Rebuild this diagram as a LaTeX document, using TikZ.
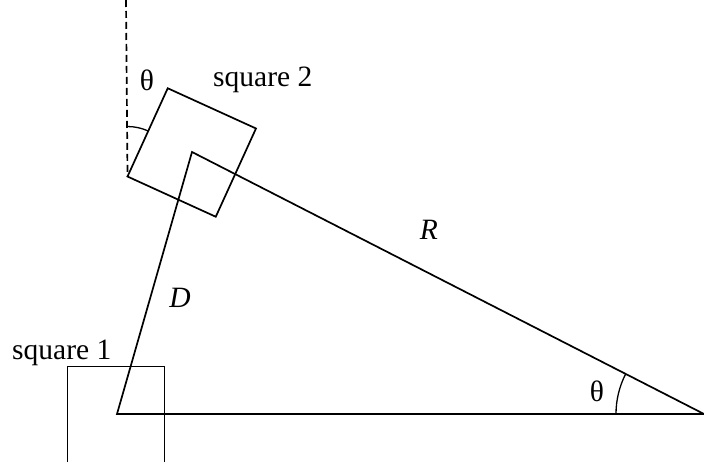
\documentclass[tikz,border=0pt]{standalone}
\usepackage{fontspec}
\setmainfont{Liberation Serif}
\begin{document}
\begin{tikzpicture}[x=1pt,y=1pt,
  ln/.style={line width=1.7pt},
  sq/.style={draw,line width=1.7pt,minimum size=97pt,inner sep=0pt,outer sep=0pt},
  lbl/.style={inner sep=0pt,font=\fontsize{29.5}{33}\selectfont}]
\useasboundingbox (0,0) rectangle (704,461);
\coordinate (P1) at (117,47);
\coordinate (P2) at (192,309);
\coordinate (E) at (704,47);
\node[sq] (sq1) at (116,46) {};
\node[sq,rotate=-24.5] (sq2) at (191.75,308.5) {};
\coordinate (top) at (126,461);
\draw[ln,dashed,dash pattern=on 7pt off 4pt] (top) -- (sq2.south west);
\draw[ln] (P1) -- (P2) -- (E) -- cycle;
\draw[line width=1.3pt] ([shift={(90:50)}]sq2.south west) arc[start angle=90,end angle=65.5,radius=50];
\draw[line width=1.3pt] ([shift={(180:88)}]E) arc[start angle=180,end angle=152.9,radius=88];
\node[lbl,anchor=base west] (t2) at (213,374) {square 2};
\node[lbl,anchor=base west] (t1) at (12,102) {square 1};
\node[lbl] (th1) at (147,381) {θ};
\node[lbl] (th2) at (597,70) {θ};
\node[lbl] (R) at (429,231) {\textit{R}};
\node[lbl] (D) at (180,163) {\textit{D}};
\end{tikzpicture}
\end{document}
